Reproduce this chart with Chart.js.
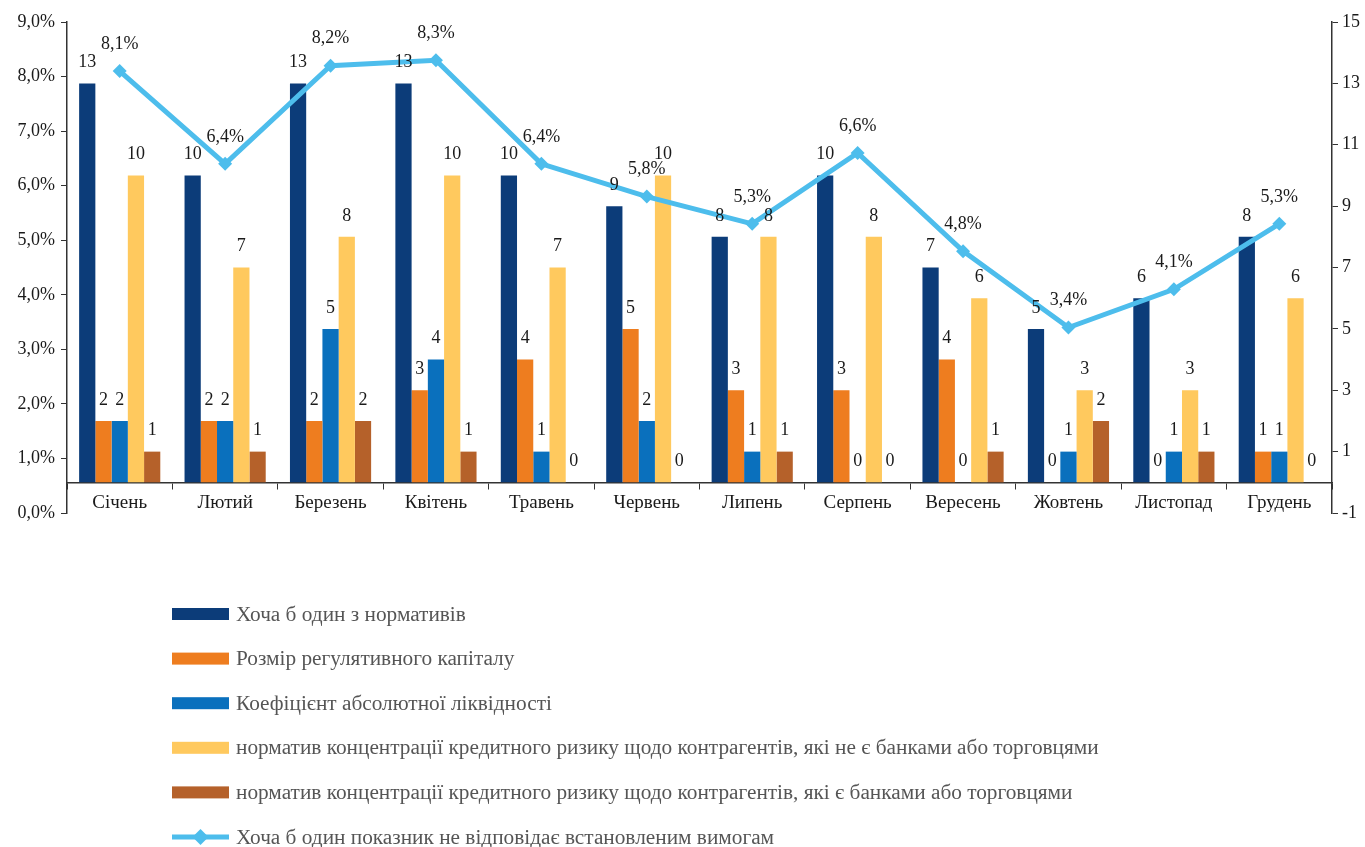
<!DOCTYPE html>
<html lang="uk">
<head>
    <meta charset="UTF-8">
    <title>Невідповідність нормативам</title>
    <script src="https://cdn.jsdelivr.net/npm/chart.js"></script>
    <style>
        body { margin: 0; background: #fff; }
        #chartBox { position: absolute; left: 0; top: 0; width: 1365px; height: 847px; }
    </style>
</head>
<body>
    <div id="chartBox"><canvas id="myChart"></canvas></div>

    <script>
        const months = ['Січень', 'Лютий', 'Березень', 'Квітень', 'Травень', 'Червень',
                        'Липень', 'Серпень', 'Вересень', 'Жовтень', 'Листопад', 'Грудень'];

        // кількість банків (права вісь)
        const anyNorm      = [13, 10, 13, 13, 10, 9, 8, 10, 7, 5, 6, 8];
        const capital      = [2, 2, 2, 3, 4, 5, 3, 3, 4, 0, 0, 1];
        const liquidity    = [2, 2, 5, 4, 1, 2, 1, 0, 0, 1, 1, 1];
        const concNonBanks = [10, 7, 8, 10, 7, 10, 8, 8, 6, 3, 3, 6];
        const concBanks    = [1, 1, 2, 1, 0, 0, 1, 0, 1, 2, 1, 0];

        // частка, % (ліва вісь)
        const anyIndicator = [8.1, 6.4, 8.2, 8.3, 6.4, 5.8, 5.3, 6.6, 4.8, 3.4, 4.1, 5.3];

        const rightTicks = [-1, 1, 3, 5, 7, 9, 11, 13, 15];

        const serif = '"Liberation Serif", "Times New Roman", serif';
        const fmtPct = v => v.toFixed(1).replace('.', ',') + '%';

        // підписи значень над стовпчиками і точками
        const valueLabels = {
            id: 'valueLabels',
            afterDatasetsDraw(chart) {
                const ctx = chart.ctx;
                ctx.save();
                ctx.font = '18px ' + serif;
                ctx.fillStyle = '#1a1a1a';
                ctx.textAlign = 'center';
                ctx.textBaseline = 'middle';
                chart.data.datasets.forEach((ds, i) => {
                    const meta = chart.getDatasetMeta(i);
                    meta.data.forEach((el, j) => {
                        const v = ds.data[j];
                        if (ds.type === 'line') {
                            ctx.fillText(fmtPct(v), el.x, el.y - 27);
                        } else {
                            ctx.fillText(String(v), el.x, el.y - 21);
                        }
                    });
                });
                ctx.restore();
            }
        };

        // легенда у стовпчик під графіком
        const columnLegend = {
            id: 'columnLegend',
            afterDraw(chart) {
                const ctx = chart.ctx;
                const order = [1, 2, 3, 4, 5, 0];
                const x0 = 172, y0 = 614, step = 44.6;
                ctx.save();
                ctx.font = '21.3px ' + serif;
                ctx.textBaseline = 'middle';
                ctx.textAlign = 'left';
                order.forEach((i, k) => {
                    const ds = chart.data.datasets[i];
                    const y = y0 + k * step;
                    ctx.fillStyle = ds.backgroundColor;
                    if (ds.type === 'line') {
                        ctx.strokeStyle = ds.borderColor;
                        ctx.lineWidth = 5;
                        ctx.beginPath();
                        ctx.moveTo(x0, y);
                        ctx.lineTo(x0 + 57, y);
                        ctx.stroke();
                        ctx.beginPath();
                        ctx.moveTo(x0 + 28.5, y - 8);
                        ctx.lineTo(x0 + 36.5, y);
                        ctx.lineTo(x0 + 28.5, y + 8);
                        ctx.lineTo(x0 + 20.5, y);
                        ctx.closePath();
                        ctx.fill();
                    } else {
                        ctx.fillRect(x0, y - 6, 57, 12);
                    }
                    ctx.fillStyle = '#555';
                    ctx.fillText(ds.label, x0 + 64, y + 1);
                });
                ctx.restore();
            }
        };

        const barSet = (label, data, color) => ({
            type: 'bar', label, data, yAxisID: 'y1',
            backgroundColor: color, borderWidth: 0,
            categoryPercentage: 0.77, barPercentage: 1.0, order: 2
        });

        const myChart = new Chart(document.getElementById('myChart'), {
            data: {
                labels: months,
                datasets: [
                    {
                        type: 'line', label: 'Хоча б один показник не відповідає встановленим вимогам',
                        data: anyIndicator, yAxisID: 'y',
                        borderColor: '#4dbdec', backgroundColor: '#4dbdec',
                        borderWidth: 5, pointStyle: 'rectRot', pointRadius: 7,
                        pointBorderWidth: 0, tension: 0, order: 1
                    },
                    barSet('Хоча б один з нормативів', anyNorm, '#0c3c79'),
                    barSet('Розмір регулятивного капіталу', capital, '#ee7d1f'),
                    barSet('Коефіцієнт абсолютної ліквідності', liquidity, '#0a70bd'),
                    barSet('норматив концентрації кредитного ризику щодо контрагентів, які не є банками або торговцями', concNonBanks, '#ffc95e'),
                    barSet('норматив концентрації кредитного ризику щодо контрагентів, які є банками або торговцями', concBanks, '#b5612a')
                ]
            },
            options: {
                responsive: true,
                maintainAspectRatio: false,
                animation: false,
                layout: { padding: { top: 22, bottom: 334, left: 0, right: 0 } },
                plugins: { legend: { display: false }, tooltip: { enabled: false } },
                scales: {
                    x: {
                        position: { y1: 0 },
                        grid: { offset: true, drawOnChartArea: false, drawTicks: true, tickLength: 6, color: '#333' },
                        border: { color: '#333', width: 1.5 },
                        ticks: { font: { family: serif, size: 19 }, color: '#1a1a1a', padding: 3 }
                    },
                    y: {
                        position: 'left', min: 0, max: 9,
                        ticks: { stepSize: 1, callback: v => fmtPct(v), font: { family: serif, size: 18 }, color: '#1a1a1a', padding: 6 },
                        grid: { drawOnChartArea: false, tickLength: 6, color: '#333' },
                        border: { color: '#333', width: 1.5 },
                        afterFit: s => { s.width = 67; }
                    },
                    y1: {
                        position: 'right', min: -1, max: 15,
                        afterBuildTicks: s => { s.ticks = rightTicks.map(v => ({ value: v })); },
                        ticks: { font: { family: serif, size: 18 }, color: '#1a1a1a', padding: 4 },
                        grid: { drawOnChartArea: false, tickLength: 6, color: '#333' },
                        border: { color: '#333', width: 1.5 },
                        afterFit: s => { s.width = 33; }
                    }
                }
            },
            plugins: [valueLabels, columnLegend]
        });
    </script>
</body>
</html>
